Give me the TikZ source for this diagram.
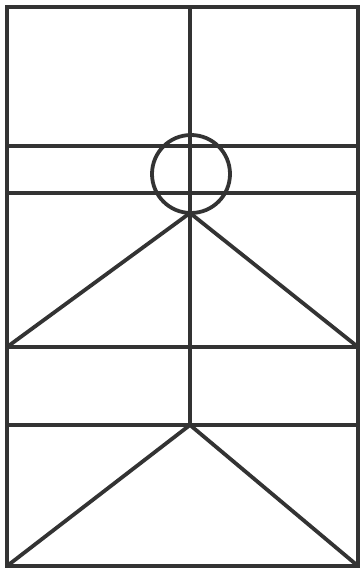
\documentclass[tikz,border=0pt]{standalone}
\usepackage{tikz}
\usetikzlibrary{calc}
\definecolor{linecolor}{RGB}{51,51,51}

\begin{document}
\begin{tikzpicture}[x=1pt,y=-1pt,stroke/.style={draw=linecolor,line width=3.8pt}]
\useasboundingbox (0,0) rectangle (361,569);
\coordinate (tl) at (7,7); \coordinate (br) at (358,566);
\coordinate (top) at (190,7); \coordinate (mid) at (190,425); \coordinate (hub) at (191,174);
\coordinate (bl) at (7,566);
\draw[stroke](tl) rectangle (br);
\draw[stroke](top)--(mid);
\draw[stroke](7,146)--(358,146); \draw[stroke](7,193)--(358,193); \draw[stroke](7,347)--(358,347); \draw[stroke](7,425)--(358,425);
\draw[stroke](hub) circle (39);
\draw[stroke](7,347)--($(hub)+(-1,39)$)--(358,347);
\draw[stroke](bl)--(mid)--(br);
\end{tikzpicture}
\end{document}
